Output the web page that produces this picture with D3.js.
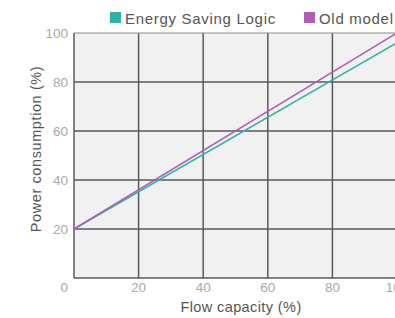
<!DOCTYPE html>
<html>
<head>
<meta charset="utf-8">
<script src="https://cdn.jsdelivr.net/npm/d3@7"></script>
<style>
  body { margin: 0; background: #fff; }
  text { font-family: "Liberation Sans", Arial, sans-serif; }
</style>
</head>
<body>
<svg width="395" height="318"></svg>
<script>
"use strict";

// chart data
var flow = [0, 100];
var energySaving = [20, 96];
var oldModel = [20, 100];
var ticks = [0, 20, 40, 60, 80, 100];
var seriesNames = ["Energy Saving Logic", "Old model"];
var seriesColors = ["#2bb5a6", "#b25db3"];

var svg = d3.select("svg");

var x = d3.scaleLinear().domain([0, 100]).range([74, 397]);
var y = d3.scaleLinear().domain([0, 100]).range([278, 33]);

// plot background
svg.append("rect")
    .attr("x", x(0)).attr("y", y(100))
    .attr("width", x(100) - x(0)).attr("height", y(0) - y(100))
    .attr("fill", "#f1f1f1");

// grid
svg.append("g").selectAll("line")
    .data(ticks)
    .enter().append("line")
    .attr("x1", function (d) { return x(d); })
    .attr("x2", function (d) { return x(d); })
    .attr("y1", y(0)).attr("y2", y(100))
    .attr("stroke", "#595959").attr("stroke-width", 1.5);

svg.append("g").selectAll("line")
    .data(ticks)
    .enter().append("line")
    .attr("y1", function (d) { return y(d); })
    .attr("y2", function (d) { return y(d); })
    .attr("x1", x(0)).attr("x2", x(100))
    .attr("stroke", function (d) { return d == 100 ? "#8a8a8a" : "#595959"; })
    .attr("stroke-width", function (d) { return d == 100 ? 1 : 1.5; });

// tick labels
svg.append("g").selectAll("text")
    .data(ticks.slice(1))
    .enter().append("text")
    .attr("x", 68).attr("y", function (d) { return y(d) + 5; })
    .attr("text-anchor", "end")
    .attr("font-size", 13.5).attr("fill", "#a8a8a8")
    .text(function (d) { return d; });

svg.append("g").selectAll("text")
    .data(ticks.slice(1))
    .enter().append("text")
    .attr("x", function (d) { return x(d); }).attr("y", 292)
    .attr("text-anchor", "middle")
    .attr("font-size", 13.5).attr("fill", "#a8a8a8")
    .text(function (d) { return d; });

svg.append("text")
    .attr("x", 68).attr("y", 292)
    .attr("text-anchor", "end")
    .attr("font-size", 13.5).attr("fill", "#a8a8a8")
    .text("0");

// series
var line = d3.line()
    .x(function (d) { return x(d[0]); })
    .y(function (d) { return y(d[1]); });

[energySaving, oldModel].forEach(function (vals, i) {
    svg.append("path")
        .datum(d3.zip(flow, vals))
        .attr("d", line)
        .attr("fill", "none")
        .attr("stroke", seriesColors[i])
        .attr("stroke-width", 1.5);
});

// axis titles
svg.append("text")
    .attr("x", 241).attr("y", 312)
    .attr("text-anchor", "middle")
    .attr("font-size", 14.5).attr("letter-spacing", 0.4).attr("fill", "#555")
    .text("Flow capacity (%)");

svg.append("text")
    .attr("transform", "translate(41,149) rotate(-90)")
    .attr("text-anchor", "middle")
    .attr("font-size", 14.5).attr("letter-spacing", 0.6).attr("fill", "#555")
    .text("Power consumption (%)");

// legend
var legendX = [110, 304];
seriesNames.forEach(function (name, i) {
    svg.append("rect")
        .attr("x", legendX[i]).attr("y", 12)
        .attr("width", 11).attr("height", 11)
        .attr("fill", seriesColors[i]);
    svg.append("text")
        .attr("x", legendX[i] + 15).attr("y", 23.5)
        .attr("font-size", 15).attr("letter-spacing", 0.7).attr("fill", "#555")
        .text(name);
});
</script>
</body>
</html>
